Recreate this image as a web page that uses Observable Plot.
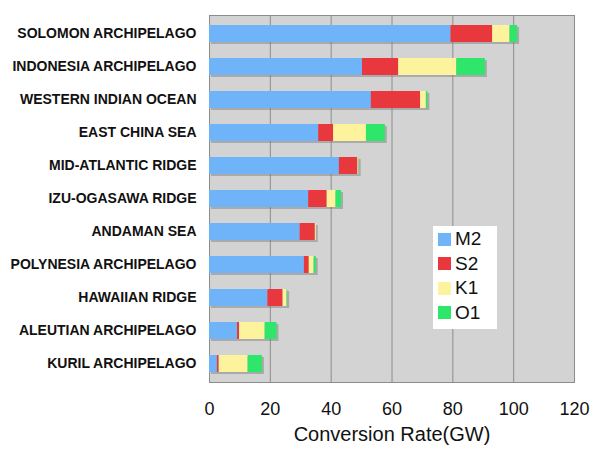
<!DOCTYPE html>
<html><head><meta charset="utf-8">
<script src="https://cdn.jsdelivr.net/npm/d3@7"></script>
<script src="https://cdn.jsdelivr.net/npm/@observablehq/plot@0.6"></script>
<style>
body{margin:0;background:#fff;}
#wrap{position:relative;width:604px;height:452px;}
#legend{position:absolute;left:433px;top:226px;width:64px;height:103px;background:#fff;font-family:"Liberation Sans",Arial,sans-serif;font-size:19px;color:#111;}
#legend .it{position:absolute;left:5px;height:20px;display:flex;align-items:center;}
#legend .sw{width:13px;height:13px;margin-right:4px;}
</style></head>
<body><div id="wrap"></div>
<script>
const regions = ["SOLOMON ARCHIPELAGO","INDONESIA ARCHIPELAGO","WESTERN INDIAN OCEAN","EAST CHINA SEA","MID-ATLANTIC RIDGE","IZU-OGASAWA RIDGE","ANDAMAN SEA","POLYNESIA ARCHIPELAGO","HAWAIIAN RIDGE","ALEUTIAN ARCHIPELAGO","KURIL ARCHIPELAGO"];
const series = ["M2","S2","K1","O1"];
const M2 = [79.4, 50.3, 53.2, 35.9, 42.7, 32.6, 29.8, 31.2, 19.2, 9.2, 2.6];
const S2 = [13.7, 11.9, 16.2, 4.9, 6.1, 6.1, 5.0, 1.6, 5.0, 0.7, 0.6];
const K1 = [5.7, 19.1, 1.9, 10.8, 0.3, 2.9, 0.3, 1.6, 1.3, 8.4, 9.5];
const O1 = [2.5, 9.4, 0.5, 6.2, 0.1, 1.8, 0.0, 0.7, 0.2, 3.9, 4.7];
const xTicks = [0,20,40,60,80,100,120];
const colors = ["#6fb4f8","#e8383e","#fdf39c","#2ee66a"];

const vals = {M2, S2, K1, O1};
const data = [];
series.forEach(s => regions.forEach((r,i) => data.push({region:r, series:s, value:vals[s][i]})));
const totals = regions.map((r,i) => ({region:r, total: M2[i]+S2[i]+K1[i]+O1[i]}));

const chart = Plot.plot({
  width:604, height:452,
  marginLeft:209, marginRight:30, marginTop:15, marginBottom:70,
  style:{fontFamily:"Liberation Sans, Arial, sans-serif", color:"#111", background:"#fff"},
  x:{domain:[0,120], ticks:xTicks},
  y:{domain:regions, paddingInner:0.5, paddingOuter:0.25},
  color:{domain:series, range:colors},
  marks:[
    Plot.frame({fill:"#d3d3d3", stroke:"none"}),
    Plot.gridX(xTicks, {stroke:"#8c8c8c", strokeOpacity:1}),
    Plot.frame({stroke:"#8c8c8c"}),
    Plot.barX(totals, {y:"region", x:"total", fill:"#777", fillOpacity:0.45, dx:2, dy:2}),
    Plot.barX(data, Plot.stackX({y:"region", x:"value", fill:"series", order:null})),
    Plot.axisX(xTicks, {tickSize:0, tickPadding:20, fontSize:18, label:null}),
    Plot.axisY({tickSize:0, tickPadding:13, fontSize:14, fontWeight:"bold", label:null}),
    Plot.text(["Conversion Rate(GW)"], {frameAnchor:"bottom", dy:58, fontSize:20, text:d=>d})
  ]
});
document.getElementById("wrap").appendChild(chart);

const lg = document.createElement("div"); lg.id="legend";
series.forEach((s,i) => {
  const it = document.createElement("div"); it.className="it"; it.style.top = (3 + i*24.5) + "px";
  const sw = document.createElement("div"); sw.className="sw"; sw.style.background = colors[i];
  const tx = document.createElement("span"); tx.textContent = s;
  it.appendChild(sw); it.appendChild(tx); lg.appendChild(it);
});
document.getElementById("wrap").appendChild(lg);
</script></body></html>
